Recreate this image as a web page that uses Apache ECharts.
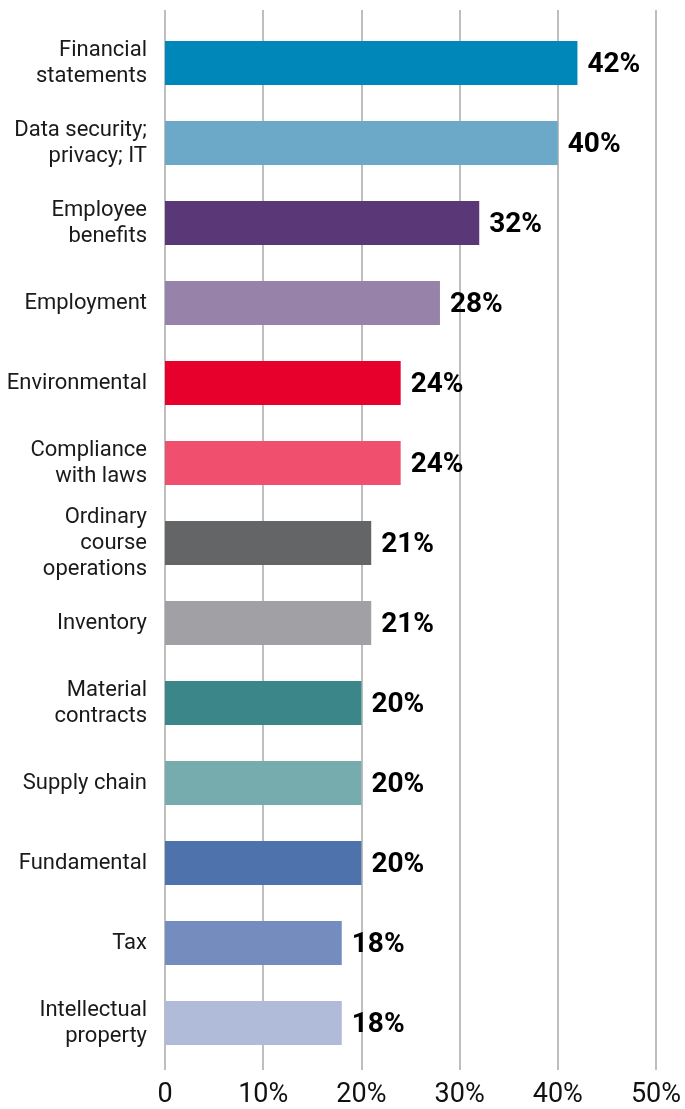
<!DOCTYPE html>
<html>
<head>
<meta charset="utf-8">
<script src="https://cdn.jsdelivr.net/npm/echarts@6/dist/echarts.min.js"></script>
<style>
  html, body { margin: 0; padding: 0; background: #ffffff; }
  #chart { width: 685px; height: 1109px; }
</style>
</head>
<body>
<div id="chart"></div>
<script>
// Share of deals by topic (percent)
const categories = [
  'Financial\nstatements',
  'Data security;\nprivacy; IT',
  'Employee\nbenefits',
  'Employment',
  'Environmental',
  'Compliance\nwith laws',
  'Ordinary\ncourse\noperations',
  'Inventory',
  'Material\ncontracts',
  'Supply chain',
  'Fundamental',
  'Tax',
  'Intellectual\nproperty'
];
const values = [42, 40, 32, 28, 24, 24, 21, 21, 20, 20, 20, 18, 18];
const barColors = [
  '#0087BA', '#6CA8C7', '#5A3877', '#9782AA', '#E8002D', '#F0506E',
  '#646567', '#A1A1A5', '#3A8689', '#76ACAD', '#4E72AB', '#748DBE', '#B0BBD9'
];
const xTicks = [0, 10, 20, 30, 40, 50];

const FONT = 'Roboto, "Noto Sans", sans-serif';
const chart = echarts.init(document.getElementById('chart'), null, { renderer: 'canvas' });

chart.setOption({
  animation: false,
  backgroundColor: '#ffffff',
  grid: [
    // gridline frame (taller than the bar band)
    { left: 165, right: 29, top: 10, bottom: 39 },
    // bar band
    { left: 165, right: 29, top: 23, bottom: 46 }
  ],
  xAxis: [
    {
      gridIndex: 0,
      type: 'value',
      min: xTicks[0],
      max: xTicks[xTicks.length - 1],
      interval: xTicks[1] - xTicks[0],
      axisLine: { show: false },
      axisTick: { show: false },
      splitLine: { show: true, lineStyle: { color: '#a8a8a8', width: 1.5 } },
      axisLabel: {
        margin: 12,
        fontFamily: FONT,
        fontSize: 27,
        color: '#111111',
        formatter: v => (v === 0 ? '0' : v + '%')
      }
    },
    {
      gridIndex: 1,
      type: 'value',
      min: xTicks[0],
      max: xTicks[xTicks.length - 1],
      show: false
    }
  ],
  yAxis: [
    { gridIndex: 0, type: 'value', show: false },
    {
      gridIndex: 1,
      type: 'category',
      data: categories,
      inverse: true,
      axisLine: { show: false },
      axisTick: { show: false },
      splitLine: { show: false },
      axisLabel: {
        margin: 18,
        padding: [5, 0, 0, 0],
        fontFamily: FONT,
        fontSize: 22,
        lineHeight: 26,
        color: '#1a1a1a',
        align: 'right'
      }
    }
  ],
  series: [
    {
      type: 'bar',
      xAxisIndex: 1,
      yAxisIndex: 1,
      barWidth: 44,
      data: values.map((v, i) => ({ value: v, itemStyle: { color: barColors[i] } })),
      label: {
        show: true,
        position: 'right',
        distance: 10,
        offset: [0, 2],
        fontFamily: FONT,
        fontSize: 28,
        fontWeight: 'bold',
        color: '#000000',
        formatter: p => p.value + '%'
      }
    }
  ]
});
</script>
</body>
</html>
